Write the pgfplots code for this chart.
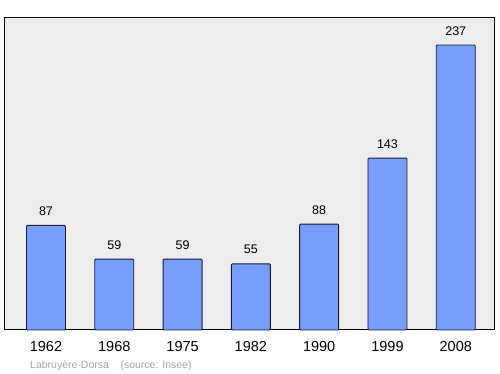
\documentclass[border=0pt]{standalone}
\usepackage{pgfplots}
\pgfplotsset{compat=1.18}
\usepackage{fontspec}
\setmainfont{Liberation Sans}
\definecolor{bgc}{HTML}{EDEDED}
\definecolor{barc}{HTML}{779DFF}
\definecolor{edgec}{HTML}{1A1A33}
\begin{document}
\begin{tikzpicture}[x=1pt,y=1pt]
\path[use as bounding box] (0,0) rectangle (500,374);
\begin{axis}[
  at={(5pt,44pt)}, anchor=south west,
  scale only axis, width=489pt, height=312pt,
  xmin=-0.6, xmax=6.56, ymin=0, ymax=259.5,
  axis background/.style={fill=bgc},
  axis line style={black, line width=1pt},
  axis x line*=bottom, axis y line=none,
  ytick=\empty,
  xtick={0,...,6},
  xticklabels={1962,1968,1975,1982,1990,1999,2008},
  xtick style={draw=none},
  xticklabel style={font=\fontsize{14.5}{15}\selectfont, yshift=-8pt},
  /pgf/number format/assume math mode=true,
  nodes near coords,
  every node near coord/.append style={font=\fontsize{12.5}{13}\selectfont, anchor=south, yshift=6pt},
  clip=false,
]
\draw[black, line width=1pt] (rel axis cs:0,0) rectangle (rel axis cs:1,1);
\addplot[ybar, bar width=39pt, fill=barc, draw=edgec, line width=0.9pt, rounded corners=1pt]
  coordinates {(0,87) (1,59) (2,59) (3,55) (4,88) (5,143) (6,237)};
\end{axis}
\node[anchor=base west, text=black!35, font=\fontsize{10.5}{11}\selectfont, inner sep=0pt] at (30,5.5) {Labruyère-Dorsa\hspace{1.1em}(source: Insee)};
\end{tikzpicture}
\end{document}
